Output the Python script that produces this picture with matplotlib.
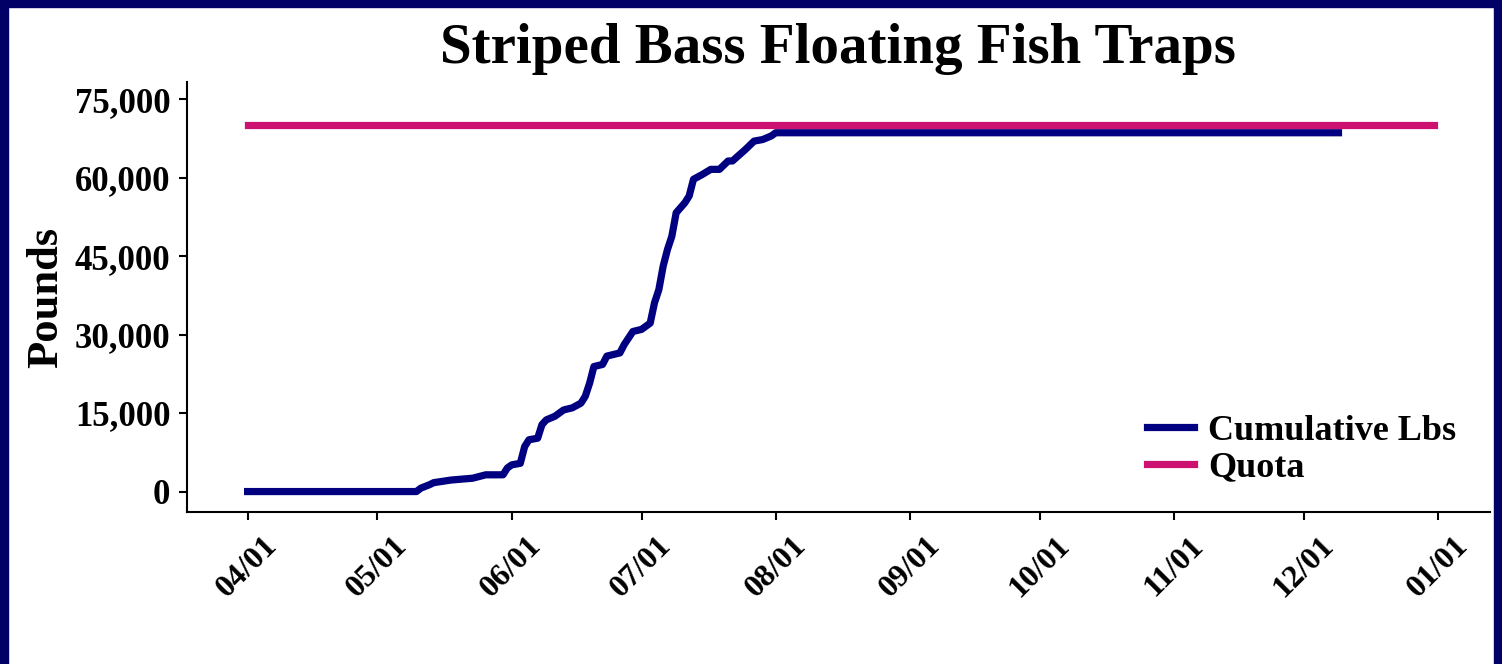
import pandas as pd
import matplotlib
matplotlib.use("Agg")
import matplotlib.pyplot as plt
import matplotlib.dates as mdates
from matplotlib.patches import Rectangle

plt.rcParams["font.family"] = ["Liberation Serif", "DejaVu Serif"]
plt.rcParams["font.weight"] = "bold"

# data
dates = [
    "2023-04-01", "2023-05-10", "2023-05-11", "2023-05-13", "2023-05-14",
    "2023-05-18", "2023-05-23", "2023-05-26", "2023-05-30", "2023-05-31",
    "2023-06-01", "2023-06-03", "2023-06-04", "2023-06-05", "2023-06-07",
    "2023-06-08", "2023-06-09", "2023-06-11", "2023-06-13", "2023-06-15",
    "2023-06-17", "2023-06-18", "2023-06-19", "2023-06-20", "2023-06-22",
    "2023-06-23", "2023-06-26", "2023-06-27", "2023-06-29", "2023-07-01",
    "2023-07-03", "2023-07-04", "2023-07-05", "2023-07-06", "2023-07-07",
    "2023-07-08", "2023-07-09", "2023-07-11", "2023-07-12", "2023-07-13",
    "2023-07-15", "2023-07-17", "2023-07-19", "2023-07-21", "2023-07-22",
    "2023-07-25", "2023-07-27", "2023-07-29", "2023-07-31", "2023-08-01",
    "2023-12-09",
]
cumulative_lbs = [
    0, 0, 640, 1300, 1700,
    2200, 2550, 3200, 3200, 4500,
    5100, 5400, 8600, 9900, 10200,
    12800, 13700, 14400, 15600, 16000,
    16900, 18200, 20700, 23900, 24300,
    25900, 26500, 28100, 30600, 31000,
    32200, 36100, 38600, 43100, 46300,
    48800, 53300, 55200, 56500, 59700,
    60600, 61600, 61600, 63200, 63200,
    65400, 67000, 67300, 68000, 68600,
    68600,
]
quota_dates = ["2023-04-01", "2023-12-31"]
quota = [70000, 70000]
tick_dates = pd.date_range("2023-04-01", "2024-01-01", freq="MS")

df = pd.DataFrame({"date": pd.to_datetime(dates), "lbs": cumulative_lbs})

fig = plt.figure(figsize=(15.02, 6.64), dpi=100)
ax = fig.add_axes([0.1245, 0.229, 0.8675, 0.6475])

ax.plot(df["date"], df["lbs"], color="#000080", lw=5.2, label="Cumulative Lbs")
ax.plot(pd.to_datetime(quota_dates), quota, color="#CC1170", lw=5.2, label="Quota")

ax.set_xlim(pd.Timestamp("2023-03-18"), pd.Timestamp("2024-01-13"))
ax.set_ylim(-3900, 78300)
ax.set_yticks(range(0, 75001, 15000))
ax.yaxis.set_major_formatter(matplotlib.ticker.FuncFormatter(lambda v, p: f"{int(v):,}"))
ax.set_xticks(tick_dates)
ax.xaxis.set_major_formatter(mdates.DateFormatter("%m/%d"))
plt.setp(ax.get_xticklabels(), rotation=45, ha="center")

ax.tick_params(axis="y", labelsize=25, length=6, width=1.5, pad=6)
ax.tick_params(axis="x", labelsize=23, length=6, width=1.5, pad=8)
for s in ["top", "right"]:
    ax.spines[s].set_visible(False)
for s in ["left", "bottom"]:
    ax.spines[s].set_linewidth(1.5)

ax.set_ylabel("Pounds", fontsize=32, fontweight="bold", labelpad=6)
fig.text(0.558, 0.905, "Striped Bass Floating Fish Traps", fontsize=41,
         fontweight="bold", ha="center", va="baseline")

ax.legend(loc="lower right", bbox_to_anchor=(0.999, -0.012), frameon=False,
          fontsize=26, handlelength=1.3, handletextpad=0.4, labelspacing=0.1)

# navy frame round the figure
navy = "#000066"
fig.patches.append(Rectangle((0, 0), 0.005, 1, transform=fig.transFigure, color=navy))
fig.patches.append(Rectangle((0.995, 0), 0.005, 1, transform=fig.transFigure, color=navy))
fig.patches.append(Rectangle((0, 0.99), 1, 0.01, transform=fig.transFigure, color=navy))

fig.savefig("out.png", dpi=100)
